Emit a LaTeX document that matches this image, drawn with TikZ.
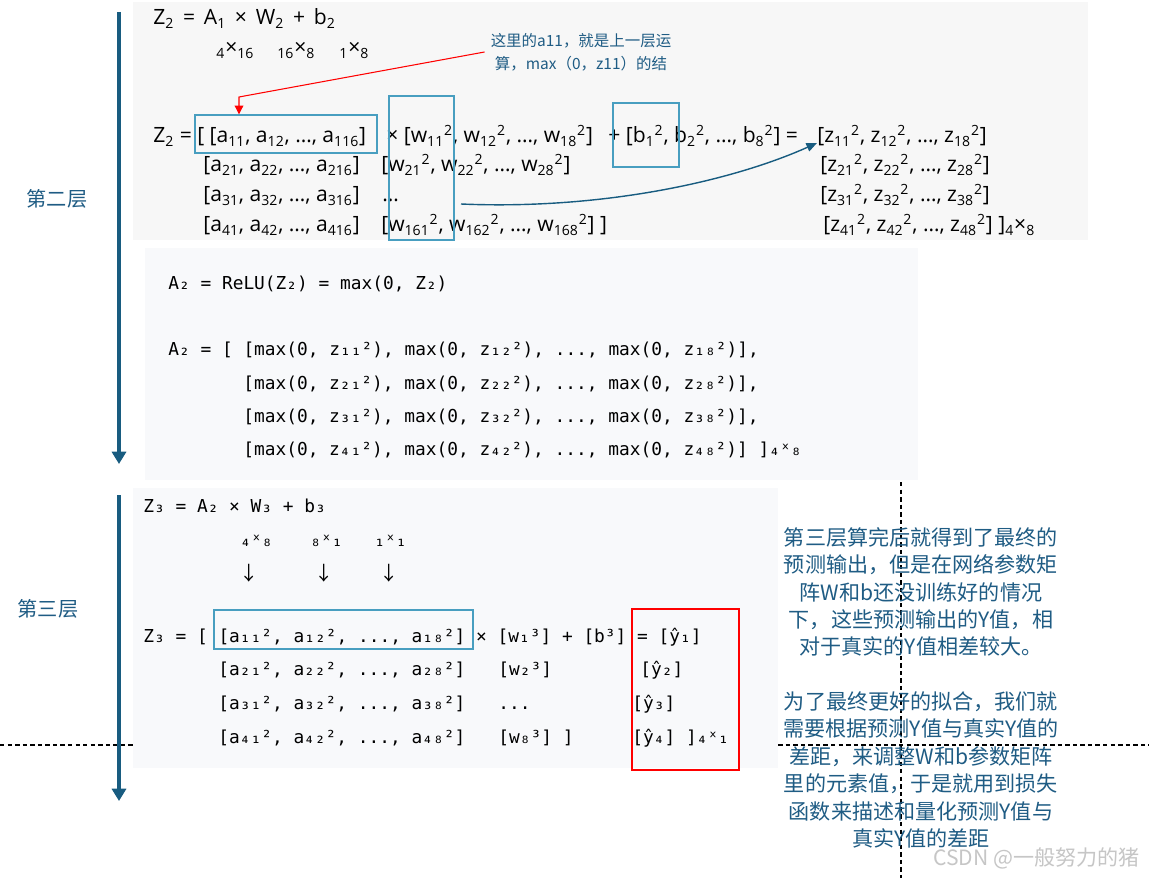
\documentclass[tikz,border=0pt]{standalone}
\usepackage{fontspec}
\setmainfont{Open Sans}
\newfontfamily\cjk{Noto Sans CJK SC}
\newfontfamily\codefont{DejaVu Sans Mono}
\usetikzlibrary{arrows.meta,fit}
\frenchspacing

\definecolor{paneltop}{RGB}{247,247,247}
\definecolor{panelcode}{RGB}{248,249,251}
\definecolor{boxblue}{RGB}{72,158,192}
\definecolor{inkblue}{RGB}{31,92,132}
\definecolor{layerblue}{RGB}{24,92,128}

\newcommand{\dn}[1]{\textsubscript{#1}}
\newcommand{\up}[1]{\textsuperscript{#1}}
\newcommand{\gap}{\hspace{5pt}}

\tikzset{
  eqn/.style={anchor=base west, inner sep=0pt, font=\fontsize{12}{14}\selectfont},
  code/.style={anchor=base west, inner sep=0pt, font=\codefont\fontsize{10.15}{12}\selectfont},
  hibox/.style={draw=boxblue, line width=0.8pt, inner sep=0pt},
  markbox/.style={draw=red, line width=0.7pt, inner sep=0pt},
  layer/.style={draw=layerblue, line width=2.3pt, -{Triangle[width=8pt,length=7pt]}},
  layername/.style={text=inkblue, font=\cjk\fontsize{11.5}{13}\selectfont},
  callout/.style={text=inkblue, font=\cjk\fontsize{8.8}{13}\selectfont, align=center},
  remark/.style={text=inkblue, font=\cjk\fontsize{12}{15.6}\selectfont, align=center},
  curve/.style={draw=layerblue, line width=0.8pt, -{Triangle[width=5pt,length=6pt]}},
}

\begin{document}
\begin{tikzpicture}[x=0.02cm, y=-0.02cm]
  \fill[white] (0,0) rectangle (1149,878);
  \useasboundingbox (0,0) rectangle (1149,878);

  % guide lines
  \draw[dash pattern=on 2.5pt off 1.8pt, line width=0.6pt] (901,482) -- (901,878);
  \draw[dash pattern=on 2.5pt off 1.8pt, line width=0.6pt] (0,745) -- (1149,745);

  % panels
  \fill[paneltop] (133,2) rectangle (1088,240);
  \fill[panelcode] (145,248) rectangle (918,480);
  \fill[panelcode] (133,488) rectangle (778,768);

  % layer arrows
  \draw[layer] (119,12) -- (119,464);
  \draw[layer] (119,495) -- (119,801);
  \node[layername] (l2) at (57,199) {第二层};
  \node[layername] (l3) at (48,609) {第三层};

  % layer 2: Z2
  \node[eqn] (zdef) at (153,25) {Z\dn{2}\gap=\gap A\dn{1}\gap×\gap W\dn{2}\gap+\gap b\dn{2}};
  \node[eqn] (dima) at (216,55) {\dn{4}×\dn{16}};
  \node[eqn] (dimw) at (277,55) {\dn{16}×\dn{8}};
  \node[eqn] (dimb) at (339,55) {\dn{1}×\dn{8}};
  \node[callout] (note) at (581,52) {这里的a11，就是上一层运\\算，max（0，z11）的结};

  \node[eqn] (ar1) at (153,143) {Z\dn{2} = [ [a\dn{11}, a\dn{12}, …, a\dn{116}]};
  \node[eqn] (wr1) at (386,143) {× [w\dn{11}\up{2}, w\dn{12}\up{2}, …, w\dn{18}\up{2}]};
  \node[eqn] (br1) at (608,143) {+ [b\dn{1}\up{2}, b\dn{2}\up{2}, …, b\dn{8}\up{2}] =};
  \node[eqn] (zr1) at (817,143) {[z\dn{11}\up{2}, z\dn{12}\up{2}, …, z\dn{18}\up{2}]};
  \node[eqn] (ar2) at (203,172) {[a\dn{21}, a\dn{22}, …, a\dn{216}]};
  \node[eqn] (wr2) at (381,172) {[w\dn{21}\up{2}, w\dn{22}\up{2}, …, w\dn{28}\up{2}]};
  \node[eqn] (zr2) at (820,172) {[z\dn{21}\up{2}, z\dn{22}\up{2}, …, z\dn{28}\up{2}]};
  \node[eqn] (ar3) at (203,202) {[a\dn{31}, a\dn{32}, …, a\dn{316}]};
  \node[eqn] (wr3) at (382,202) {…};
  \node[eqn] (zr3) at (820,202) {[z\dn{31}\up{2}, z\dn{32}\up{2}, …, z\dn{38}\up{2}]};
  \node[eqn] (ar4) at (203,232) {[a\dn{41}, a\dn{42}, …, a\dn{416}]};
  \node[eqn] (wr4) at (381,232) {[w\dn{161}\up{2}, w\dn{162}\up{2}, …, w\dn{168}\up{2}] ]};
  \node[eqn] (zr4) at (823,232) {[z\dn{41}\up{2}, z\dn{42}\up{2}, …, z\dn{48}\up{2}] ]\dn{4}×\dn{8}};

  \node[hibox, fit={(195,115) (377,153)}] (boxa) {};
  \node[hibox, fit={(389,96) (454,240)}] (boxw) {};
  \node[hibox, fit={(613,103) (679,167)}] (boxb) {};

  \coordinate (bend) at (239,97);
  \draw[red, line width=0.6pt, -{Triangle[width=5pt,length=5pt]}] (note.west) -- (bend) -- (bend |- boxa.north);
  \coordinate (cstart) at (461,204);
  \draw[curve] (cstart) .. controls (600,210) and (730,182) .. (zr1.base west);

  % layer 2: A2
  \node[code] (relu) at (168,290) {A₂ = ReLU(Z₂) = max(0, Z₂)};
  \node[code] (mr1) at (168,356) {A₂ = [ [max(0, z₁₁²), max(0, z₁₂²), ..., max(0, z₁₈²)],};
  \node[code] (mr2) at (243,389) {[max(0, z₂₁²), max(0, z₂₂²), ..., max(0, z₂₈²)],};
  \node[code] (mr3) at (243,422) {[max(0, z₃₁²), max(0, z₃₂²), ..., max(0, z₃₈²)],};
  \node[code] (mr4) at (243,455) {[max(0, z₄₁²), max(0, z₄₂²), ..., max(0, z₄₈²)] ]₄ˣ₈};

  % layer 3
  \node[code] (z3def) at (143,512) {Z₃ = A₂ × W₃ + b₃};
  \node[code] (d3a) at (240,546) {₄ˣ₈};
  \node[code] (d3w) at (310,546) {₈ˣ₁};
  \node[code] (d3b) at (374,546) {₁ˣ₁};
  \node[code, font=\cjk\fontsize{11}{12}\selectfont] (p3a) at (239,580) {↓};
  \node[code, font=\cjk\fontsize{11}{12}\selectfont] (p3w) at (314,580) {↓};
  \node[code, font=\cjk\fontsize{11}{12}\selectfont] (p3b) at (379,580) {↓};

  \node[code] (yr1) at (143,642) {Z₃ = [ [a₁₁², a₁₂², ..., a₁₈²] × [w₁³] + [b³] = [ŷ₁]};
  \node[code] (ar32) at (218,675) {[a₂₁², a₂₂², ..., a₂₈²]};
  \node[code] (wr32) at (498,675) {[w₂³]};
  \node[code] (yr2) at (640,675) {[ŷ₂]};
  \node[code] (ar33) at (218,709) {[a₃₁², a₃₂², ..., a₃₈²]};
  \node[code] (wr33) at (498,709) {...};
  \node[code] (yr3) at (632,709) {[ŷ₃]};
  \node[code] (ar34) at (218,743) {[a₄₁², a₄₂², ..., a₄₈²]};
  \node[code] (wr34) at (498,743) {[w₈³] ]};
  \node[code] (yr4) at (632,743) {[ŷ₄] ]₄ˣ₁};

  \node[hibox, fit={(214,610) (473,649)}] (boxa3) {};
  \node[markbox, fit={(632,609) (739,770)}] (boxy) {};

  % explanation
  \node[remark] (res1) at (921,592) {第三层算完后就得到了最终的\\预测输出，但是在网络参数矩\\阵W和b还没训练好的情况\\下，这些预测输出的Y值，相\\对于真实的Y值相差较大。};
  \node[remark] (res2) at (921,770) {为了最终更好的拟合，我们就\\需要根据预测Y值与真实Y值的\\差距，来调整W和b参数矩阵\\里的元素值，于是就用到损失\\函数来描述和量化预测Y值与\\真实Y值的差距};
  \node[text=gray!45, font=\cjk\fontsize{12}{14}\selectfont, anchor=east] (mark) at (1146,858) {CSDN @一般努力的猪};
\end{tikzpicture}
\end{document}
